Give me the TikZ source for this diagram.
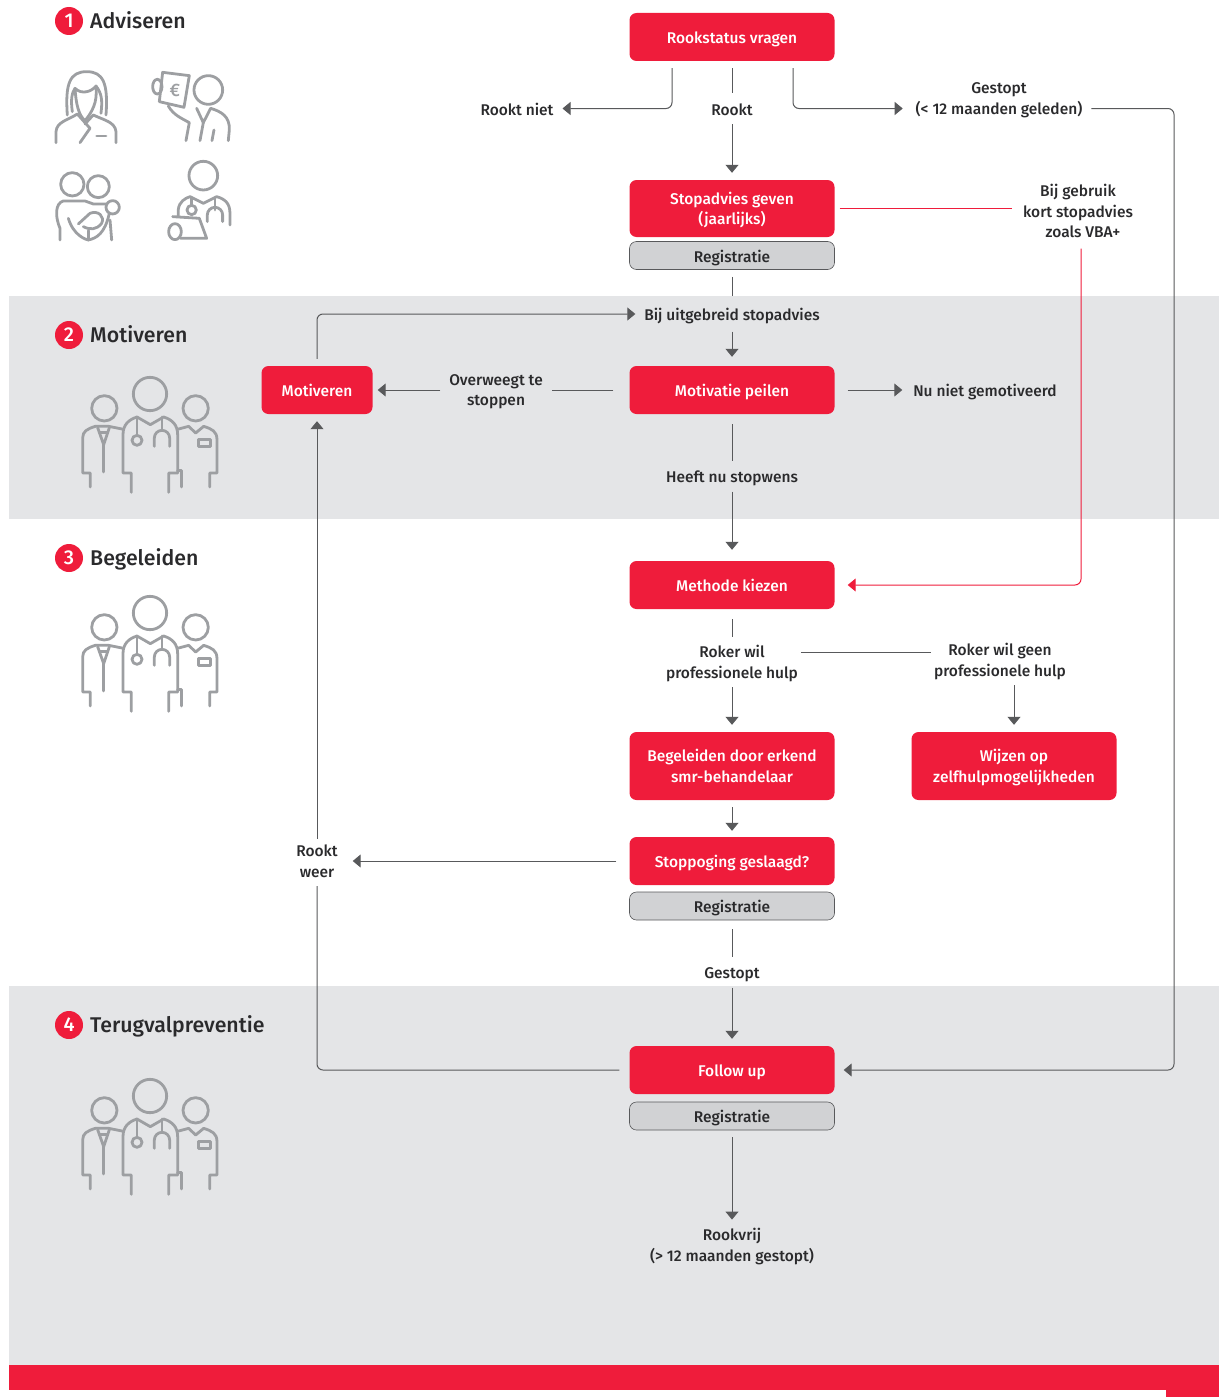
\documentclass[tikz,border=0pt]{standalone}
\usepackage{fontspec}
\setmainfont{Fira Sans Medium}
\usetikzlibrary{positioning,arrows.meta}

\definecolor{rokred}{HTML}{EF1C3B}
\definecolor{bandgrey}{HTML}{E4E5E7}
\definecolor{reggrey}{HTML}{D1D2D4}
\definecolor{linegrey}{HTML}{58595B}
\definecolor{icongrey}{HTML}{9D9FA2}
\definecolor{textdark}{HTML}{2A2A2C}

\tikzset{
    evenline/.style={text depth=0pt,execute at begin node={\rule{0pt}{13pt}}},
    redbox/.style={evenline,fill=rokred,text=white,rounded corners=7pt,minimum width=205pt,minimum height=48pt,align=center,inner sep=0pt},
    regbox/.style={evenline,fill=reggrey,draw=linegrey,line width=.6pt,text=textdark,rounded corners=7pt,minimum width=205pt,minimum height=28pt,inner sep=0pt},
    lab/.style={evenline,text=textdark,align=center,inner sep=0pt,outer sep=2pt},
    numdot/.style={circle,fill=rokred,text=white,minimum size=28pt,inner sep=0pt,font=\fontsize{20}{20}\selectfont},
    heading/.style={text=textdark,anchor=base west,inner sep=0pt,font=\fontsize{21.3}{24}\selectfont},
    stem/.style={linegrey,line width=1pt,rounded corners=6pt,shorten <=7pt,shorten >=7pt},
    flow/.style={stem,-{Triangle[width=13pt,length=8pt]}},
    redstem/.style={stem,rokred},
    iconline/.style={icongrey,line width=2.8pt,line cap=round,line join=round},
    team/.pic={
        \begin{scope}[x=.3333pt,y=-.3333pt,shift={(-329,-253)},iconline]
            \draw (329,253) circle (50);
            \draw (192,296) circle (38);
            \draw (466,296) circle (38);
            % middle one
            \draw (273,548) -- (273,490) -- (248,490) -- (248,375) .. controls (248,345) and (265,330) .. (290,322) -- (330,345) -- (370,322) .. controls (395,330) and (412,345) .. (412,375) -- (412,490) -- (385,490) -- (385,548);
            \draw (290,322) -- (290,378);
            \draw (290,392) circle (15);
            \draw (365,322) -- (365,362);
            \draw (342,410) -- (342,385) arc (180:360:23) -- (388,410);
            % left one
            \draw (150,532) -- (150,490) -- (127,490) -- (127,385) .. controls (127,365) and (140,358) .. (165,350) -- (205,350) -- (245,358);
            \draw (172,354) -- (190,405) -- (207,354);
            \draw (178,368) -- (200,368);
            \draw (190,405) -- (190,487);
            % right one
            \draw (415,358) -- (445,350) -- (466,370) -- (490,350) .. controls (515,358) and (530,365) .. (530,390) -- (530,490) -- (508,490) -- (508,532);
            \draw (475,390) rectangle (510,410);
            \draw (412,483) -- (423,483) -- (423,532);
        \end{scope}
    },
}

\begin{document}
\begin{tikzpicture}[x=1pt,y=-1pt,on grid]
    \useasboundingbox (0,0) rectangle (1219,1397);
    \fontsize{15.5}{20.5}\selectfont

    % bands
    \fill[bandgrey] (9,296) rectangle (1219,519);
    \fill[bandgrey] (9,986) rectangle (1219,1365);
    \fill[rokred] (9,1365) rectangle (1219,1390);
    \fill[rokred] (1166,1390) rectangle (1219,1397);

    % phase titles
    \node[numdot] (n1) at (69,21) {1};
    \node[numdot] (n2) at (69,335) {2};
    \node[numdot] (n3) at (69,558) {3};
    \node[numdot] (n4) at (69,1025) {4};
    \node[heading] (t1) at (90,28.5) {Adviseren};
    \node[heading] (t2) at (90,342) {Motiveren};
    \node[heading] (t3) at (90,565) {Begeleiden};
    \node[heading] (t4) at (90,1032) {Terugvalpreventie};

    % icons
    \begin{scope}[x=.3333pt,y=-.3333pt,shift={(120,0)},iconline]
        % woman
        \draw (82,345) .. controls (75,250) and (90,215) .. (140,215) .. controls (190,215) and (205,250) .. (198,345);
        \draw (97,335) .. controls (92,300) and (95,280) .. (105,265) .. controls (125,285) and (155,275) .. (168,258) .. controls (170,290) and (170,320) .. (135,362) .. controls (115,345) and (108,310) .. (105,265);
        \draw (183,340) .. controls (188,300) and (185,280) .. (168,258);
        \draw (48,428) -- (48,395) .. controls (50,365) and (85,360) .. (112,342) -- (150,385) -- (120,428);
        \draw (228,428) -- (228,395) .. controls (225,365) and (190,360) .. (160,345) -- (135,372);
        \draw (170,408) -- (198,408);
        % man with bill
        \draw (505,270) circle (43);
        \draw (368,217) -- (448,227) -- (432,322) -- (358,305) -- cycle;
        \draw (352,260) ellipse (14 and 22);
        \node[text=icongrey,inner sep=0pt,font=\fontsize{18}{18}\selectfont] (euro) at (405,270) {€};
        \draw (385,318) .. controls (400,345) and (425,355) .. (448,368) -- (438,422);
        \draw (470,325) -- (490,368) -- (512,325) .. controls (545,335) and (570,350) .. (568,390) -- (565,422);
        \draw (490,368) -- (480,422);
        \draw (522,390) -- (516,422);
        % parent and child
        \draw (97,553) circle (35);
        \draw (175,560) circle (33);
        \draw (60,720) -- (60,685) .. controls (45,650) and (45,610) .. (70,603) -- (135,603) -- (160,612) -- (198,612);
        \draw (218,622) circle (20);
        \draw (85,655) .. controls (100,705) and (135,718) .. (145,720) .. controls (170,715) and (195,700) .. (208,640);
        \draw (215,720) -- (210,660);
        \draw (145,720) -- (145,692);
        \draw (115,672) -- (150,640) .. controls (175,630) and (195,650) .. (185,670) .. controls (170,690) and (150,690) .. (130,680);
        % doctor with tablet
        \draw (490,527) circle (43);
        \draw (415,650) -- (415,628) .. controls (418,605) and (435,595) .. (450,590) -- (490,610) -- (530,590) .. controls (555,597) and (570,610) .. (570,640) -- (570,675);
        \draw (455,592) -- (455,615);
        \draw (455,630) circle (14);
        \draw (525,592) -- (525,630);
        \draw (502,665) -- (502,645) arc (180:360:23) -- (548,665);
        \draw (398,650) -- (478,655) -- (500,715) -- (422,715);
        \draw (405,695) ellipse (19 and 24);
    \end{scope}
    \pic at (150,394) {team};
    \pic at (150,613) {team};
    \pic at (150,1096) {team};

    % main column
    \node[redbox] (rookstatus) at (732,37) {Rookstatus vragen};
    \node[lab,below=71.5pt of rookstatus] (rookt) {Rookt};
    \node[lab,left=215pt of rookt] (rooktniet) {Rookt niet};
    \node[lab,above right=10pt and 267pt of rookt] (gestoptkort) {Gestopt\\(< 12 maanden geleden)};
    \node[redbox,below=171.5pt of rookstatus,minimum height=57pt] (stopadvies) {Stopadvies geven\\(jaarlijks)};
    \node[lab,below right=2.5pt and 346pt of stopadvies] (bijgebruik) {Bij gebruik\\kort stopadvies\\\hspace*{10pt}zoals VBA+};
    \node[regbox,below=47pt of stopadvies] (reg1) {Registratie};
    \node[lab,below=58.5pt of reg1] (bijuitgebreid) {Bij uitgebreid stopadvies};
    \node[redbox,below=76pt of bijuitgebreid] (motivatie) {Motivatie peilen};
    \node[redbox,left=415pt of motivatie,minimum width=111pt] (motiveren) {Motiveren};
    \node[lab,left=236pt of motivatie] (overweegt) {Overweegt te\\stoppen};
    \node[lab,right=253pt of motivatie] (nuniet) {Nu niet gemotiveerd};
    \node[lab,below=86pt of motivatie] (stopwens) {Heeft nu stopwens};
    \node[redbox,below=109pt of stopwens] (methode) {Methode kiezen};
    \node[lab,below=77pt of methode] (rokerwil) {Roker wil\\professionele hulp};
    \node[lab,above right=2pt and 268pt of rokerwil] (rokergeen) {Roker wil geen\\professionele hulp};
    \node[redbox,below=104pt of rokerwil,minimum height=68pt] (begeleiden) {Begeleiden door erkend\\smr-behandelaar};
    \node[redbox,right=282pt of begeleiden,minimum height=68pt] (wijzen) {Wijzen op\\zelfhulpmogelijkheden};
    \node[redbox,below=95pt of begeleiden] (stoppoging) {Stoppoging geslaagd?};
    \node[lab,left=415pt of stoppoging] (rooktweer) {Rookt\\weer};
    \node[regbox,below=45pt of stoppoging] (reg2) {Registratie};
    \node[lab,below=66pt of reg2] (gestopt) {Gestopt};
    \node[redbox,below=98pt of gestopt] (followup) {Follow up};
    \node[regbox,below=46pt of followup] (reg3) {Registratie};
    \node[lab,below=129pt of reg3] (rookvrij) {Rookvrij\\(> 12 maanden gestopt)};

    \coordinate (gestoptleft) at ([yshift=-10pt]gestoptkort.west);
    \coordinate (gestoptright) at ([yshift=-10pt]gestoptkort.east);
    \coordinate (gestopthoek) at (gestoptright -| 1174,0);

    % connectors
    \draw[flow] ([xshift=-60pt]rookstatus.south) |- (rooktniet);
    \draw[stem] (rookstatus) -- (rookt);
    \draw[flow] (rookt) -- (stopadvies);
    \draw[flow,shorten >=11pt] ([xshift=61pt]rookstatus.south) |- (gestoptleft);
    \draw[flow,shorten >=9pt] (gestoptright) -- (gestopthoek) |- (followup.east);
    \draw[redstem,shorten <=5pt,shorten >=9pt] (stopadvies.east) -- (stopadvies.east -| bijgebruik.west);
    \draw[redstem,-{Triangle[width=13pt,length=8pt]},shorten >=13pt,shorten <=9pt] ([xshift=3pt]bijgebruik.south) |- (methode.east);
    \draw[stem,shorten >=10pt] (reg1) -- (bijuitgebreid);
    \draw[flow,shorten <=9pt,shorten >=9pt] (bijuitgebreid) -- (motivatie);
    \draw[flow] (motiveren) |- (bijuitgebreid);
    \draw[stem,shorten <=16pt] (motivatie) -- (overweegt);
    \draw[flow,shorten >=5pt] (overweegt) -- (motiveren);
    \draw[flow,shorten <=13pt,shorten >=9pt] (motivatie) -- (nuniet);
    \draw[stem,shorten <=10pt] (motivatie) -- (stopwens);
    \draw[flow,shorten >=11pt] (stopwens) -- (methode);
    \draw[stem,shorten <=10pt] (methode) -- (rokerwil);
    \draw[flow] (rokerwil) -- (begeleiden);
    \draw[stem,shorten <=1pt,shorten >=1pt] ([yshift=10pt]rokerwil.east) -- ([yshift=10pt]rokerwil.east -| rokergeen.west);
    \draw[flow] (rokergeen.south -| wijzen.north) -- (wijzen.north);
    \draw[flow,shorten >=6pt] (begeleiden) -- (stoppoging);
    \draw[flow,shorten <=13pt,shorten >=13pt] (stoppoging) -- (rooktweer);
    \draw[stem,shorten <=9pt] (reg2) -- (gestopt);
    \draw[flow] (gestopt) -- (followup);
    \draw[stem,shorten <=10pt] (followup) -| (rooktweer);
    \draw[flow,shorten <=4pt] (rooktweer) -- (motiveren);
    \draw[flow] (reg3) -- (reg3 |- rookvrij.north);
\end{tikzpicture}
\end{document}
